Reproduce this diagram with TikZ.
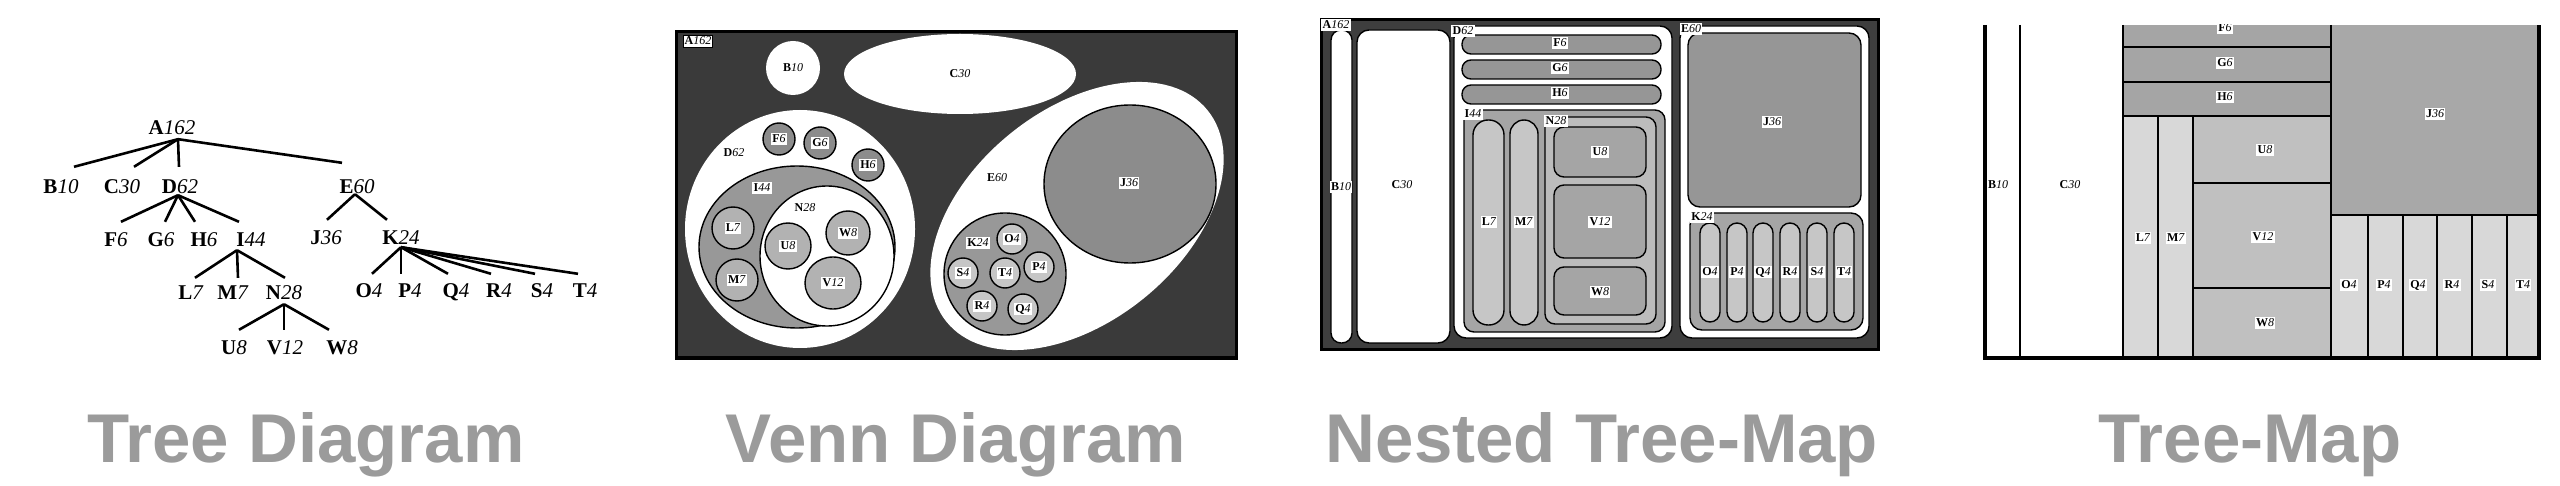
\documentclass[tikz,border=0pt]{standalone}
\usepackage{fontspec}
\setmainfont{Liberation Serif}
\newfontfamily\capfont{Liberation Sans}
\usetikzlibrary{calc}
\definecolor{capgray}{RGB}{155,155,155}
\definecolor{vbg}{RGB}{58,58,58}
\definecolor{vone}{RGB}{140,140,140}
\definecolor{vtwo}{RGB}{152,152,152}
\definecolor{vthree}{RGB}{178,178,178}
\definecolor{vfour}{RGB}{198,198,198}
\definecolor{nbg}{RGB}{62,62,62}
\definecolor{nfone}{RGB}{150,150,150}
\definecolor{nftwo}{RGB}{165,165,165}
\definecolor{nfthree}{RGB}{198,198,198}
\definecolor{nffour}{RGB}{188,188,188}
\definecolor{tfgh}{RGB}{165,165,165}
\definecolor{tlight}{RGB}{216,216,216}
\definecolor{tuvw}{RGB}{192,192,192}
\definecolor{tj}{RGB}{168,168,168}
\newcommand\nlab[2]{\textbf{#1}\textit{#2}}
\tikzset{
  tl/.style={font=\fontsize{21}{21}\selectfont, inner sep=0pt, text height=14pt, text depth=0pt},
  te/.style={line width=2.6pt},
  slab/.style={font=\fontsize{12}{12}\selectfont, fill=white, inner sep=1.2pt, text height=8.5pt, text depth=1pt},
  vo/.style={draw=black, line width=1.4pt},
  no/.style={draw=black, line width=1.4pt},
  tdiv/.style={line width=1.6pt},
  tframe/.style={line width=4pt},
  captxt/.style={font=\capfont\bfseries\fontsize{69}{69}\selectfont, text=capgray, anchor=base, inner sep=0pt}
}
\begin{document}
\begin{tikzpicture}[x=1pt,y=-1pt]
\useasboundingbox (0,0) rectangle (2560,486);
\fill[white] (0,0) rectangle (2560,486);

% ---------------- Tree diagram ----------------
\node[tl] (A) at (172,128) {\nlab{A}{162}};
\node[tl] (B) at (61,187) {\nlab{B}{10}};
\node[tl] (C) at (122,187) {\nlab{C}{30}};
\node[tl] (D) at (180,187) {\nlab{D}{62}};
\node[tl] (E) at (357,187) {\nlab{E}{60}};
\node[tl] (F) at (116,240) {\nlab{F}{6}};
\node[tl] (G) at (161,240) {\nlab{G}{6}};
\node[tl] (H) at (204,240) {\nlab{H}{6}};
\node[tl] (I) at (251,240) {\nlab{I}{44}};
\node[tl] (J) at (326,238) {\nlab{J}{36}};
\node[tl] (K) at (401,238) {\nlab{K}{24}};
\node[tl] (L) at (191,293) {\nlab{L}{7}};
\node[tl] (M) at (233,293) {\nlab{M}{7}};
\node[tl] (N) at (284,293) {\nlab{N}{28}};
\node[tl] (O) at (369,291) {\nlab{O}{4}};
\node[tl] (P) at (410,291) {\nlab{P}{4}};
\node[tl] (Q) at (456,291) {\nlab{Q}{4}};
\node[tl] (R) at (499,291) {\nlab{R}{4}};
\node[tl] (S) at (542,291) {\nlab{S}{4}};
\node[tl] (T) at (585,291) {\nlab{T}{4}};
\node[tl] (U) at (234,348) {\nlab{U}{8}};
\node[tl] (V) at (285,348) {\nlab{V}{12}};
\node[tl] (W) at (342,348) {\nlab{W}{8}};

\coordinate (Aj) at ([xshift=6pt,yshift=-4pt]A.south);
\coordinate (Dj) at ([xshift=-2pt,yshift=-1pt]D.south);
\coordinate (Ej) at ([xshift=-2pt]E.south);
\coordinate (Ij) at ([xshift=-14pt,yshift=-3pt]I.south);
\coordinate (Nj) at ([yshift=-4pt]N.south);
\coordinate (Kj) at ([yshift=-2pt]K.south);

\draw[te] (Aj) -- ([xshift=13pt,yshift=13pt]B.north);
\draw[te] (Aj) -- ([xshift=12pt,yshift=13pt]C.north);
\draw[te] (Aj) -- ([xshift=-1pt,yshift=13pt]D.north);
\draw[te] (Aj) -- ([xshift=-15pt,yshift=17pt]E.north);
\draw[te] (Dj) -- ([xshift=5pt,yshift=11pt]F.north);
\draw[te] (Dj) -- ([xshift=4pt,yshift=11pt]G.north);
\draw[te] (Dj) -- ([xshift=-9pt,yshift=11pt]H.north);
\draw[te] (Dj) -- ([xshift=-12pt,yshift=11pt]I.north);
\draw[te] (Ej) -- ([xshift=1pt,yshift=11pt]J.north);
\draw[te] (Ej) -- ([xshift=-14pt,yshift=11pt]K.north);
\draw[te] (Ij) -- ([xshift=4pt,yshift=8pt]L.north);
\draw[te] (Ij) -- ([xshift=5pt,yshift=8pt]M.north);
\draw[te] (Ij) -- ([xshift=1pt,yshift=8pt]N.north);
\draw[te] (Nj) -- ([xshift=5pt,yshift=11pt]U.north);
\draw[te] (Nj) -- ([xshift=-1pt,yshift=11pt]V.north);
\draw[te] (Nj) -- ([xshift=-13pt,yshift=11pt]W.north);
\draw[te] (Kj) -- ([xshift=3pt,yshift=10pt]O.north);
\draw[te] (Kj) -- ([xshift=-9pt,yshift=10pt]P.north);
\draw[te] (Kj) -- ([xshift=-8pt,yshift=10pt]Q.north);
\draw[te] (Kj) -- ([xshift=-8pt,yshift=10pt]R.north);
\draw[te] (Kj) -- ([xshift=-7pt,yshift=10pt]S.north);
\draw[te] (Kj) -- ([xshift=-7pt,yshift=10pt]T.north);

% ---------------- Venn diagram ----------------
\draw[line width=3pt, fill=vbg] (676,32) rectangle (1236,358);
\fill[white] (793,68) circle [radius=27];
\fill[white] (960,74) ellipse [x radius=116, y radius=40];
\fill[white] (800,229) ellipse [x radius=115, y radius=119];
\fill[white, rotate around={39:(1077,216)}] (1077,216) ellipse [x radius=168, y radius=106];
\draw[vo, fill=vone] (779,139) circle [radius=16];
\draw[vo, fill=vone] (820,143) circle [radius=16];
\draw[vo, fill=vone] (868,165) circle [radius=16];
\draw[vo, fill=vtwo] (797,247) ellipse [x radius=98, y radius=81];
\draw[vo, fill=white] (827,256) ellipse [x radius=67, y radius=70];
\draw[vo, fill=vthree] (733,228) circle [radius=21];
\draw[vo, fill=vthree] (737,280) circle [radius=21];
\draw[vo, fill=vthree] (788,246) circle [radius=23];
\draw[vo, fill=vthree] (848,233) circle [radius=22];
\draw[vo, fill=vthree] (833,283) ellipse [x radius=28, y radius=26];
\draw[vo, fill=vone] (1130,184) ellipse [x radius=86, y radius=79];
\draw[vo, fill=vtwo] (1005,274) circle [radius=61];
\foreach \cx/\cy in {1012/239, 963/273, 1005/273, 1039/267, 982/306, 1023/309}
  \draw[vo, fill=vfour] (\cx,\cy) circle [radius=15];

\node[slab, draw=black, line width=0.8pt] (vA) at (698,41) {\nlab{A}{162}};
\node[slab] (vB) at (793,68) {\nlab{B}{10}};
\node[slab] (vC) at (960,74) {\nlab{C}{30}};
\node[slab] (vD) at (734,153) {\nlab{D}{62}};
\node[slab] (vE) at (997,178) {\nlab{E}{60}};
\node[slab] (vF) at (779,139) {\nlab{F}{6}};
\node[slab] (vG) at (820,143) {\nlab{G}{6}};
\node[slab] (vH) at (868,165) {\nlab{H}{6}};
\node[slab] (vI) at (762,188) {\nlab{I}{44}};
\node[slab] (vN) at (805,208) {\nlab{N}{28}};
\node[slab] (vL) at (733,228) {\nlab{L}{7}};
\node[slab] (vM) at (737,280) {\nlab{M}{7}};
\node[slab] (vU) at (788,246) {\nlab{U}{8}};
\node[slab] (vW) at (848,233) {\nlab{W}{8}};
\node[slab] (vV) at (833,283) {\nlab{V}{12}};
\node[slab] (vJ) at (1129,183) {\nlab{J}{36}};
\node[slab] (vK) at (978,243) {\nlab{K}{24}};
\node[slab] (vO) at (1012,239) {\nlab{O}{4}};
\node[slab] (vS) at (963,273) {\nlab{S}{4}};
\node[slab] (vT) at (1005,273) {\nlab{T}{4}};
\node[slab] (vP) at (1039,267) {\nlab{P}{4}};
\node[slab] (vR) at (982,306) {\nlab{R}{4}};
\node[slab] (vQ) at (1023,309) {\nlab{Q}{4}};

% ---------------- Nested tree-map ----------------
\draw[line width=3pt, fill=nbg] (1321,20) rectangle (1878,350);
\draw[no, fill=white, rounded corners=10pt] (1331,30) rectangle (1352,343);
\draw[no, fill=white, rounded corners=12pt] (1357,30) rectangle (1450,343);
\draw[no, fill=white, rounded corners=12pt] (1454,26) rectangle (1672,338);
\draw[no, fill=nfone, rounded corners=9pt] (1462,35) rectangle (1661,54);
\draw[no, fill=nfone, rounded corners=9pt] (1462,60) rectangle (1661,79);
\draw[no, fill=nfone, rounded corners=9pt] (1462,85) rectangle (1661,104);
\draw[no, fill=nftwo, rounded corners=10pt] (1464,110) rectangle (1665,332);
\draw[no, fill=nfthree, rounded corners=15pt] (1473,120) rectangle (1504,325);
\draw[no, fill=nfthree, rounded corners=14pt] (1510,120) rectangle (1538,325);
\draw[no, fill=nffour, rounded corners=10pt] (1545,117) rectangle (1656,324);
\draw[no, fill=nftwo, rounded corners=10pt] (1554,127) rectangle (1646,177);
\draw[no, fill=nftwo, rounded corners=10pt] (1554,185) rectangle (1646,258);
\draw[no, fill=nftwo, rounded corners=10pt] (1554,267) rectangle (1646,315);
\draw[no, fill=white, rounded corners=12pt] (1680,26) rectangle (1869,338);
\draw[no, fill=nfone, rounded corners=12pt] (1688,33) rectangle (1861,207);
\draw[no, fill=nftwo, rounded corners=12pt] (1690,213) rectangle (1863,330);
\foreach \cx in {1710,1737,1763,1790,1817,1844}
  \draw[no, fill=nfthree, rounded corners=10pt] (\cx-10,223) rectangle (\cx+10,322);

\node[slab] (nA) at (1336,25) {\nlab{A}{162}};
\node[slab] (nB) at (1341,187) {\nlab{B}{10}};
\node[slab] (nC) at (1402,185) {\nlab{C}{30}};
\node[slab] (nD) at (1463,31) {\nlab{D}{62}};
\node[slab] (nF) at (1560,43) {\nlab{F}{6}};
\node[slab] (nG) at (1560,68) {\nlab{G}{6}};
\node[slab] (nH) at (1560,93) {\nlab{H}{6}};
\node[slab] (nI) at (1473,114) {\nlab{I}{44}};
\node[slab] (nL) at (1489,222) {\nlab{L}{7}};
\node[slab] (nM) at (1524,222) {\nlab{M}{7}};
\node[slab] (nN) at (1556,121) {\nlab{N}{28}};
\node[slab] (nU) at (1600,152) {\nlab{U}{8}};
\node[slab] (nV) at (1600,222) {\nlab{V}{12}};
\node[slab] (nW) at (1600,292) {\nlab{W}{8}};
\node[slab] (nE) at (1691,29) {\nlab{E}{60}};
\node[slab] (nJ) at (1772,122) {\nlab{J}{36}};
\node[slab] (nK) at (1702,217) {\nlab{K}{24}};
\node[slab] (nO) at (1710,272) {\nlab{O}{4}};
\node[slab] (nP) at (1737,272) {\nlab{P}{4}};
\node[slab] (nQ) at (1763,272) {\nlab{Q}{4}};
\node[slab] (nR) at (1790,272) {\nlab{R}{4}};
\node[slab] (nS) at (1817,272) {\nlab{S}{4}};
\node[slab] (nT) at (1844,272) {\nlab{T}{4}};

% ---------------- Tree-map ----------------
\begin{scope}
\clip (1975,25) rectangle (2550,366);
\fill[tfgh] (2123,25) rectangle (2331,116);
\fill[tlight] (2123,116) rectangle (2193,358);
\fill[tuvw] (2193,116) rectangle (2331,358);
\fill[tj] (2331,25) rectangle (2538,215);
\fill[tlight] (2331,215) rectangle (2538,358);
\draw[tdiv] (2020,25) -- (2020,358);
\draw[tdiv] (2123,25) -- (2123,358);
\draw[tdiv] (2331,25) -- (2331,358);
\draw[tdiv] (2123,47) -- (2331,47);
\draw[tdiv] (2123,82) -- (2331,82);
\draw[tdiv] (2123,116) -- (2331,116);
\draw[tdiv] (2158,116) -- (2158,358);
\draw[tdiv] (2193,116) -- (2193,358);
\draw[tdiv] (2193,183) -- (2331,183);
\draw[tdiv] (2193,288) -- (2331,288);
\draw[tdiv] (2331,215) -- (2538,215);
\foreach \vx in {2368,2403,2437,2472,2507}
  \draw[tdiv] (\vx,215) -- (\vx,358);
\draw[tframe] (1985,25) -- (1985,358) -- (2539,358) -- (2539,25);
\node[slab] (mF) at (2225,28) {\nlab{F}{6}};
\end{scope}
\node[slab] (mB) at (1998,185) {\nlab{B}{10}};
\node[slab] (mC) at (2070,185) {\nlab{C}{30}};
\node[slab] (mG) at (2225,63) {\nlab{G}{6}};
\node[slab] (mH) at (2225,97) {\nlab{H}{6}};
\node[slab] (mL) at (2143,238) {\nlab{L}{7}};
\node[slab] (mM) at (2176,238) {\nlab{M}{7}};
\node[slab] (mU) at (2265,150) {\nlab{U}{8}};
\node[slab] (mV) at (2263,237) {\nlab{V}{12}};
\node[slab] (mW) at (2265,323) {\nlab{W}{8}};
\node[slab] (mJ) at (2435,114) {\nlab{J}{36}};
\node[slab] (mO) at (2349,285) {\nlab{O}{4}};
\node[slab] (mP) at (2384,285) {\nlab{P}{4}};
\node[slab] (mQ) at (2418,285) {\nlab{Q}{4}};
\node[slab] (mR) at (2452,285) {\nlab{R}{4}};
\node[slab] (mS) at (2488,285) {\nlab{S}{4}};
\node[slab] (mT) at (2523,285) {\nlab{T}{4}};

% ---------------- Captions ----------------
\node[captxt] (cap1) at (306,462) {Tree Diagram};
\node[captxt] (cap2) at (956,462) {Venn Diagram};
\node[captxt] (cap3) at (1602,462) {Nested Tree-Map};
\node[captxt] (cap4) at (2250,462) {Tree-Map};
\end{tikzpicture}
\end{document}
